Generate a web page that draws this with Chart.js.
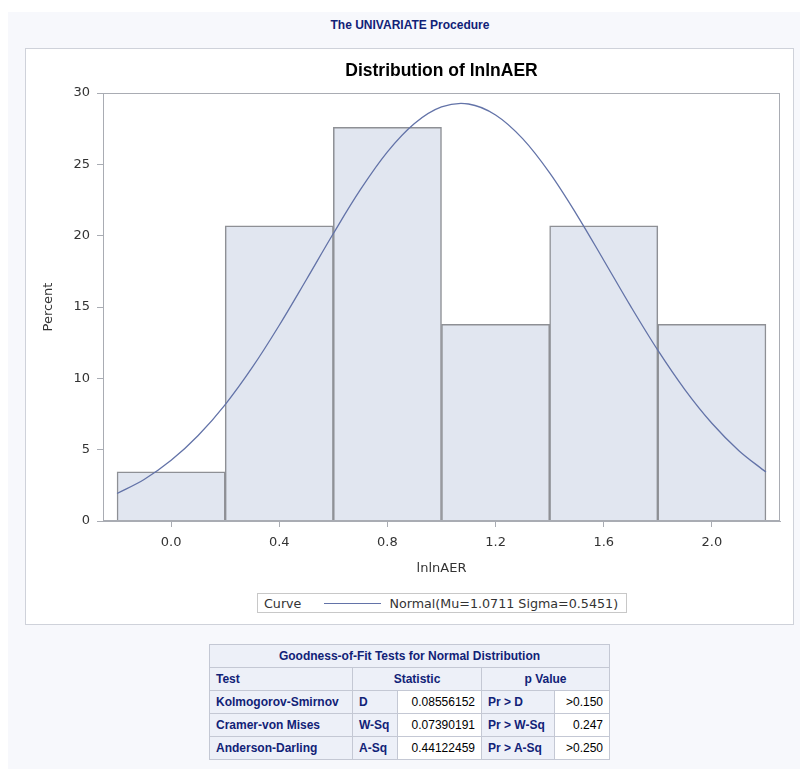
<!DOCTYPE html>
<html>
<head>
<meta charset="utf-8">
<script src="https://cdn.jsdelivr.net/npm/chart.js@4"></script>
<style>
  body { margin: 0; background: #fff; width: 800px; height: 769px; position: relative; overflow: hidden; }
  #panel { position: absolute; left: 8px; top: 12px; right: 0; bottom: 0; background: #f7f8fc; }
  #proc { position: absolute; left: 0; top: 18px; width: 820px; text-align: center;
          font: bold 12px "Liberation Sans", Arial, sans-serif; color: #112277; }
  #box { position: absolute; left: 25px; top: 48px; width: 767px; height: 575px; background: #fff; border: 1px solid #cfd2da; }
  #wrap { position: absolute; left: 0; top: 1px; width: 766px; height: 536px; }
  #legend { position: absolute; left: 231px; top: 544px; height: 18px; border: 1px solid #c8c8c8;
            font: 12.7px "DejaVu Sans", sans-serif; color: #333; display: flex; align-items: center; padding: 0 8px 0 6px; white-space: nowrap; }
  #legend .sw { display: inline-block; width: 57px; height: 0; border-top: 1.3px solid #6373a8; margin: 0 8px 0 23px; }
  table { position: absolute; left: 209px; top: 644px; border-collapse: collapse; border: 1px solid #bfc3cf;
          font: 12px "Liberation Sans", Arial, sans-serif; }
  td, th { border: 1px solid #c4c8d4; padding: 0 6px; height: 22px; }
  th, td.h { background: #edf0f8; color: #112277; font-weight: bold; }
  td.v { background: #fff; color: #000; text-align: right; }
  td.h { text-align: left; }
</style>
</head>
<body>
<div id="panel"></div>
<div id="proc">The UNIVARIATE Procedure</div>
<div id="box">
  <div id="wrap"><canvas id="hist"></canvas></div>
  <div id="legend"><span>Curve</span><span class="sw"></span><span id="legText"></span></div>
</div>
<table>
  <tr><th colspan="5">Goodness-of-Fit Tests for Normal Distribution</th></tr>
  <tr><th style="text-align:left;width:130px">Test</th><th colspan="2">Statistic</th><th colspan="2">p Value</th></tr>
  <tr><td class="h">Kolmogorov-Smirnov</td><td class="h" style="width:32px">D</td><td class="v" style="width:71px">0.08556152</td><td class="h" style="width:60px">Pr &gt; D</td><td class="v" style="width:42px">&gt;0.150</td></tr>
  <tr><td class="h">Cramer-von Mises</td><td class="h">W-Sq</td><td class="v">0.07390191</td><td class="h">Pr &gt; W-Sq</td><td class="v">0.247</td></tr>
  <tr><td class="h">Anderson-Darling</td><td class="h">A-Sq</td><td class="v">0.44122459</td><td class="h">Pr &gt; A-Sq</td><td class="v">&gt;0.250</td></tr>
</table>
<script>
  // histogram bins (midpoints) and percent of observations
  const binMid = [0.0, 0.4, 0.8, 1.2, 1.6, 2.0];
  const binPct = [3.45, 20.69, 27.59, 13.79, 20.69, 13.79];

  // fitted normal curve
  const curveX = [-0.2, -0.1, 0.0, 0.1, 0.2, 0.3, 0.4, 0.5, 0.6, 0.7, 0.8, 0.9, 1.0, 1.1,
                  1.2, 1.3, 1.4, 1.5, 1.6, 1.7, 1.8, 1.9, 2.0, 2.1, 2.2];
  const curveY = [1.93, 2.91, 4.25, 5.99, 8.16, 10.76, 13.72, 16.91, 20.15, 23.22, 25.87, 27.86, 29.02, 29.23,
                  28.46, 26.80, 24.40, 21.48, 18.28, 15.04, 11.97, 9.21, 6.85, 4.93, 3.43];
  const curveLabel = 'Normal(Mu=1.0711 Sigma=0.5451)';

  const xTicks = [0.0, 0.4, 0.8, 1.2, 1.6, 2.0];
  const xTickLabels = ['0.0', '0.4', '0.8', '1.2', '1.6', '2.0'];
  const yTicks = [0, 5, 10, 15, 20, 25, 30];

  document.getElementById('legText').textContent = curveLabel;

  const frame = {
    id: 'frame',
    afterDatasetsDraw(chart) {
      const a = chart.chartArea, c = chart.ctx;
      c.save();
      c.strokeStyle = '#a9acb3';
      c.lineWidth = 1;
      c.strokeRect(a.left + 0.5, a.top + 0.5, a.right - a.left - 1, a.bottom - a.top - 1);
      c.restore();
    }
  };

  const tickFont = { family: 'DejaVu Sans', size: 13 };

  new Chart(document.getElementById('hist').getContext('2d'), {
    type: 'bar',
    data: {
      datasets: [
        {
          type: 'line',
          label: curveLabel,
          data: curveX.map((x, i) => ({ x: x, y: curveY[i] })),
          borderColor: '#6373a8',
          borderWidth: 1.3,
          pointRadius: 0,
          tension: 0.35,
          fill: false,
          order: 0
        },
        {
          label: 'Percent',
          data: binMid.map((x, i) => ({ x: x, y: binPct[i] })),
          backgroundColor: '#e1e6f0',
          borderColor: '#8e9095',
          borderWidth: 1.5,
          barPercentage: 1,
          categoryPercentage: 1,
          order: 1
        }
      ]
    },
    options: {
      responsive: true,
      maintainAspectRatio: false,
      animation: false,
      layout: { padding: { left: 0, right: 12, top: 0, bottom: 0 } },
      plugins: {
        legend: { display: false },
        tooltip: { enabled: false },
        title: {
          display: true,
          fullSize: false,
          text: 'Distribution of lnlnAER',
          color: '#000',
          font: { family: 'Liberation Sans', size: 17.5, weight: 'bold' },
          padding: { top: 11, bottom: 11 }
        }
      },
      scales: {
        x: {
          type: 'linear',
          offset: false,
          min: -0.252,
          max: 2.252,
          afterBuildTicks: s => { s.ticks = xTicks.map(v => ({ value: v })); },
          afterFit: s => { s.height = 65; },
          ticks: {
            callback: (v, i) => xTickLabels[i],
            color: '#333', font: tickFont, padding: 8, maxRotation: 0
          },
          grid: { drawOnChartArea: false, drawTicks: true, tickLength: 6, color: '#a9acb3', offset: false },
          border: { display: true, color: '#a9acb3' },
          title: { display: true, text: 'lnlnAER', color: '#333', font: tickFont, padding: { top: 0, bottom: 10 } }
        },
        y: {
          min: 0,
          max: 30,
          afterBuildTicks: s => { s.ticks = yTicks.map(v => ({ value: v })); },
          afterFit: s => { s.width = 77; },
          ticks: { color: '#333', font: tickFont, padding: 7 },
          grid: { drawOnChartArea: false, drawTicks: true, tickLength: 6, color: '#a9acb3' },
          border: { display: true, color: '#a9acb3' },
          title: { display: true, text: 'Percent', color: '#333', font: tickFont, padding: { top: 15, bottom: 0 } }
        }
      }
    },
    plugins: [frame]
  });
</script>
</body>
</html>
